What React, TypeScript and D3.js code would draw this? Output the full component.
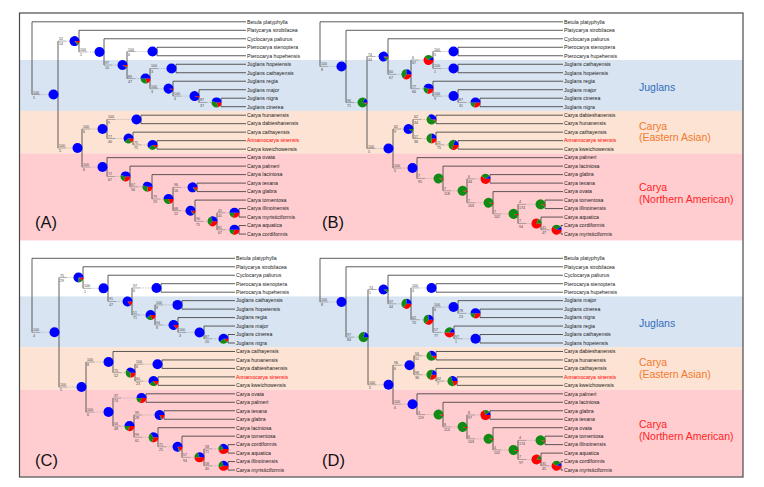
import React from 'react';
import * as d3 from 'd3';

// ---------- taxa (tip order, top to bottom) ----------
const taxaA = ["Betula platyphylla","Platycarya strobilacea","Cyclocarya paliurus","Pterocarya stenoptera","Pterocarya hupehensis","Juglans hopeiensis","Juglans cathayensis","Juglans regia","Juglans major","Juglans nigra","Juglans cinerea","Carya hunanensis","Carya dabieshanensis","Carya cathayensis","Annamocarya sinensis","Carya kweichowensis","Carya ovata","Carya palmeri","Carya laciniosa","Carya texana","Carya glabra","Carya tomentosa","Carya illinoinensis","Carya myristiciformis","Carya aquatica","Carya cordiformis"];
const taxaB = ["Betula platyphylla","Platycarya strobilacea","Cyclocarya paliurus","Pterocarya stenoptera","Pterocarya hupehensis","Juglans cathayensis","Juglans hopeiensis","Juglans regia","Juglans major","Juglans cinerea","Juglans nigra","Carya dabieshanensis","Carya hunanensis","Carya cathayensis","Annamocarya sinensis","Carya kweichowensis","Carya palmeri","Carya laciniosa","Carya glabra","Carya texana","Carya ovata","Carya tomentosa","Carya illinoinensis","Carya aquatica","Carya cordiformis","Carya myristiciformis"];
const taxaC = ["Betula platyphylla","Platycarya strobilacea","Cyclocarya paliurus","Pterocarya stenoptera","Pterocarya hupehensis","Juglans cathayensis","Juglans hopeiensis","Juglans regia","Juglans major","Juglans cinerea","Juglans nigra","Carya cathayensis","Carya hunanensis","Carya dabieshanensis","Annamocarya sinensis","Carya kweichowensis","Carya ovata","Carya palmeri","Carya texana","Carya glabra","Carya laciniosa","Carya tomentosa","Carya cordiformis","Carya aquatica","Carya illinoinensis","Carya myristiciformis"];
const taxaD = ["Betula platyphylla","Platycarya strobilacea","Cyclocarya paliurus","Pterocarya stenoptera","Pterocarya hupehensis","Juglans major","Juglans cinerea","Juglans nigra","Juglans regia","Juglans cathayensis","Juglans hopeiensis","Carya dabieshanensis","Carya hunanensis","Carya cathayensis","Annamocarya sinensis","Carya kweichowensis","Carya palmeri","Carya laciniosa","Carya glabra","Carya texana","Carya ovata","Carya tomentosa","Carya illinoinensis","Carya aquatica","Carya cordiformis","Carya myristiciformis"];

// ---------- internal nodes: [id, parent, depth, support top, support bottom, blue, red, green] ----------
const nodesA = [
  ["R","",0,"","",0,0,0],
  ["ING","R",26,"100","5",1,0,0],
  ["PR","ING",47,"52","14",.85,.08,.07],
  ["CR","PR",72,"100","1",1,0,0],
  ["PJ","CR",95,"97","10",.9,.07,.03],
  ["PT","PJ",125,"100","6",1,0,0],
  ["JU","PJ",118,"89","47",.5,.2,.3],
  ["JHC","JU",144,"100","3",1,0,0],
  ["JR","JU",141,"100","3",.95,.05,0],
  ["JM","JR",167,"100","4",.95,.05,0],
  ["JN","JM",189,"87","37",.45,.2,.35],
  ["CAR","ING",50,"100","5",1,0,0],
  ["EA","CAR",75,"100","6",1,0,0],
  ["HD","EA",109,"100","9",1,0,0],
  ["CAK","EA",101,"77","40",.6,.15,.25],
  ["AK","CAK",125,"75","75",.6,.1,.3],
  ["NA","CAR",75,"100","6",1,0,0],
  ["P1","NA",98,"72","67",.45,.3,.25],
  ["P2","P1",120,"67","56",.45,.25,.3],
  ["P3","P2",141,"79","19",.5,.2,.3],
  ["TG","P3",165,"96","16",.85,.1,.05],
  ["P4","P3",163,"68","12",.85,.1,.05],
  ["P5","P4",185,"90","75",.3,.35,.35],
  ["IM","P5",207,"41","41",.5,.3,.2],
  ["AC","P5",207,"81","67",.5,.3,.2],
];
const leafParentA = ["R","PR","CR","PT","PT","JHC","JHC","JR","JM","JN","JN","HD","HD","CAK","AK","AK","NA","P1","P2","TG","TG","P4","IM","IM","AC","AC"];

const nodesB = [
  ["R","",0,"","",0,0,0],
  ["ING","R",26,"100","8",1,0,0],
  ["JD","ING",47,"96","71",.15,.05,.8],
  ["CPJ","JD",68,"74","44",.85,.05,.1],
  ["PJ","CPJ",91,"60","67",.25,.35,.4],
  ["PJC","PJ",113,"6","67",.1,.6,.3],
  ["PT","PJC",138,"100","5",1,0,0],
  ["JCH","PJC",138,"100","1",1,0,0],
  ["JR","PJ",113,"77","66",.45,.3,.25],
  ["JM","JR",138,"100","9",1,0,0],
  ["JN","JM",160,"87","31",.5,.3,.2],
  ["CAR","JD",73,"100","5",1,0,0],
  ["EA","CAR",93,"62","9",.9,0,.1],
  ["DH","EA",116,"62","34",.35,.05,.6],
  ["CAK","EA",116,"57","36",.25,.25,.5],
  ["AK","CAK",138,"11","75",.2,.3,.5],
  ["NA","CAR",97,"100","5",1,0,0],
  ["Q1","NA",123,"7","95",0,.05,.95],
  ["Q2","Q1",147,"7","118",0,.05,.95],
  ["GT","Q2",170,"6","44",.1,.6,.3],
  ["Q3","Q2",173,"7","103",0,.05,.95],
  ["Q4","Q3",198,"7","102",0,.05,.95],
  ["TI","Q4",225,"4","174",0,.05,.95],
  ["ACM","Q4",221,"7","94",0,.8,.2],
  ["CM","ACM",241,"41","47",.1,.6,.3],
];
const leafParentB = ["R","ING","CPJ","PT","PT","JCH","JCH","JR","JM","JN","JN","DH","DH","CAK","AK","AK","NA","Q1","GT","GT","Q3","TI","TI","ACM","CM","CM"];

const nodesC = [
  ["R","",0,"","",0,0,0],
  ["ING","R",27,"100","4",1,0,0],
  ["PR","ING",51,"75","29",.75,.1,.15],
  ["CR","PR",76,"100","1",1,0,0],
  ["PJ","CR",100,"91","47",.85,.15,0],
  ["PT","PJ",129,"97","6",1,0,0],
  ["JU","PJ",123,"51","71",.6,.2,.2],
  ["JCH","JU",150,"100","8",1,0,0],
  ["JR","JU",146,"94","8",.85,.15,0],
  ["JM","JR",172,"100","3",1,0,0],
  ["JN","JM",196,"87","20",.6,.1,.3],
  ["CAR","ING",54,"100","5",1,0,0],
  ["EA","CAR",81,"100","8",1,0,0],
  ["X","EA",103,"75","52",.4,.25,.35],
  ["HD","X",130,"100","6",1,0,0],
  ["AK","X",126,"60","23",.6,.15,.25],
  ["NA","CAR",81,"100","6",1,0,0],
  ["OP","NA",114,"37","74",.5,.3,.2],
  ["R1","NA",102,"56","48",.5,.3,.2],
  ["TG","R1",132,"99","28",.8,.15,.05],
  ["R2","R1",126,"99","61",.35,.3,.35],
  ["R3","R2",150,"71","25",.8,.15,.05],
  ["R4","R3",172,"57","94",.3,.5,.2],
  ["CA","R4",196,"58","71",.35,.45,.2],
  ["IM","R4",196,"58","40",.3,.45,.25],
];
const leafParentC = ["R","PR","CR","PT","PT","JCH","JCH","JR","JM","JN","JN","EA","HD","HD","AK","AK","OP","OP","TG","TG","R2","R3","CA","CA","IM","IM"];

const nodesD = [
  ["R","",0,"","",0,0,0],
  ["ING","R",26,"100","8",1,0,0],
  ["JD","ING",48,"97","84",.2,0,.8],
  ["CPJ","JD",68,"74","1",.9,0,.1],
  ["PJ","CPJ",91,"97","44",.25,.35,.4],
  ["PT","PJ",116,"100","4",1,0,0],
  ["JU","PJ",113,"62","70",.25,.35,.4],
  ["JM","JU",138,"100","6",1,0,0],
  ["JN","JM",160,"78","23",.5,.3,.2],
  ["JRC","JU",134,"57","77",.15,.5,.35],
  ["JCH","JRC",160,"97","1",1,0,0],
  ["CAR","JD",73,"100","5",1,0,0],
  ["EA","CAR",94,"96","6",1,0,0],
  ["DH","EA",116,"56","51",.3,.1,.6],
  ["CAK","EA",116,"98","36",.2,.3,.5],
  ["AK","CAK",137,"62","7",.3,.2,.5],
  ["NA","CAR",97,"100","6",1,0,0],
  ["Q1","NA",123,"3","119",0,.05,.95],
  ["Q2","Q1",147,"8","114",0,.05,.95],
  ["GT","Q2",170,"8","97",.1,.7,.2],
  ["Q3","Q2",173,"6","103",0,.05,.95],
  ["Q4","Q3",198,"4","102",0,.05,.95],
  ["TI","Q4",225,"4","174",0,.05,.95],
  ["ACM","Q4",221,"7","97",0,.85,.15],
  ["CM","ACM",241,"35","45",.1,.6,.3],
];
const leafParentD = ["R","ING","CPJ","PT","PT","JM","JN","JN","JRC","JCH","JCH","DH","DH","CAK","AK","AK","NA","Q1","GT","GT","Q3","TI","TI","ACM","CM","CM"];

const panelLabels = ["(A)", "(B)", "(C)", "(D)"];
const groupBreaks = [5, 11, 16]; // first tip index of Juglans, E. Asian Carya, N. American Carya
const highlightTaxon = "Annamocarya sinensis";

const PIE_RED = "#ff0000";
const PIE_GREEN = "#138a13";
const PIE_BLUE = "#0000ff";
const BAND_JUG = "#d9e4f2";
const BAND_EA = "#fde3d3";
const BAND_NA = "#ffcdd0";
const FONT = "'Liberation Sans', Arial, sans-serif";

const arc = d3.arc();

function Tree({ nodes, leafParent, taxa, rootX, tipX, tipDepth, y0, step }) {
  const xs = d3.scaleLinear().domain([0, tipDepth]).range([rootX, tipX]);
  const ys = d3.scaleLinear().domain([0, taxa.length - 1]).range([y0, y0 + step * (taxa.length - 1)]);
  const table = [
    ...nodes.map((n) => ({ id: n[0], parent: n[1], depth: n[2], top: n[3], bot: n[4], pie: [n[6], n[7], n[5]], leaf: -1 })),
    ...leafParent.map((p, i) => ({ id: "L" + i, parent: p, depth: tipDepth, leaf: i })),
  ];
  const root = d3.stratify().id((d) => d.id).parentId((d) => d.parent || null)(table);
  root.eachAfter((n) => {
    n.px = xs(n.data.depth);
    if (n.data.leaf >= 0) n.py = ys(n.data.leaf);
    else {
      const cy = n.children.map((c) => c.py);
      n.ylo = Math.min(...cy);
      n.yhi = Math.max(...cy);
      n.py = (n.ylo + n.yhi) / 2;
    }
  });
  const all = root.descendants();
  const internals = all.filter((n) => n.children);
  const pieGen = d3.pie().sort(null).startAngle(Math.PI / 2).endAngle(Math.PI / 2 + 2 * Math.PI);
  const R = 5;
  const els = [];
  // verticals
  internals.forEach((n, i) => {
    els.push(<line key={"v" + i} x1={n.px} x2={n.px} y1={n.ylo} y2={n.yhi} stroke="#4d4d4d" strokeWidth={0.9} />);
  });
  // horizontals
  all.forEach((n, i) => {
    if (!n.parent) return;
    const x0 = n.parent.px;
    if (!n.children) {
      els.push(<line key={"h" + i} x1={x0} x2={tipX} y1={n.py} y2={n.py} stroke="#333" strokeWidth={0.8} />);
    } else {
      const pieLeft = n.px - 4.5 - R;
      const solidEnd = Math.min(x0 + 8, pieLeft);
      els.push(<line key={"hs" + i} x1={x0} x2={solidEnd} y1={n.py} y2={n.py} stroke="#777" strokeWidth={0.6} />);
      els.push(<line key={"hd" + i} x1={solidEnd} x2={n.px} y1={n.py} y2={n.py} stroke="#999" strokeWidth={0.6} strokeDasharray="0.8 0.8" />);
    }
  });
  // pies
  internals.forEach((n, i) => {
    if (!n.parent) return;
    const vals = n.data.pie;
    const cx = n.px - 4.5;
    const colors = [PIE_RED, PIE_GREEN, PIE_BLUE];
    const arcs = pieGen(vals);
    els.push(
      <g key={"p" + i} transform={`translate(${cx},${n.py})`}>
        {arcs.map((a, j) =>
          a.value > 0 ? (
            <path key={j} d={arc({ innerRadius: 0, outerRadius: R, startAngle: a.startAngle, endAngle: a.endAngle })} fill={colors[j]} />
          ) : null
        )}
      </g>
    );
    els.push(
      <text key={"st" + i} x={n.parent.px + 1} y={n.py - 1} fontSize={3.6} fill="#444" fontFamily={FONT}>{n.data.top}</text>
    );
    els.push(
      <text key={"sb" + i} x={n.parent.px + 1} y={n.py + 4.3} fontSize={3.6} fill="#444" fontFamily={FONT}>{n.data.bot}</text>
    );
  });
  // tip labels
  taxa.forEach((t, i) => {
    els.push(
      <text key={"t" + i} x={tipX + 1} y={ys(i) + 1.8} fontSize={5.2} fontFamily={FONT} fill={t === highlightTaxon ? "#ff0000" : "#1a1a1a"}>{t}</text>
    );
  });
  return <g>{els}</g>;
}

function Bands({ top, y0, step, n, left, right }) {
  const ys = d3.scaleLinear().domain([0, n - 1]).range([y0, y0 + step * (n - 1)]);
  const e1 = (ys(groupBreaks[0] - 1) + ys(groupBreaks[0])) / 2;
  const e2 = (ys(groupBreaks[1] - 1) + ys(groupBreaks[1])) / 2;
  const e3 = (ys(groupBreaks[2] - 1) + ys(groupBreaks[2])) / 2;
  const e4 = ys(n - 1) + 6.6;
  return (
    <g>
      <rect x={left} y={top} width={right - left} height={e1 - top} fill="#fff" />
      <rect x={left} y={e1} width={right - left} height={e2 - e1} fill={BAND_JUG} />
      <rect x={left} y={e2} width={right - left} height={e3 - e2} fill={BAND_EA} />
      <rect x={left} y={e3} width={right - left} height={e4 - e3} fill={BAND_NA} />
    </g>
  );
}

function GroupLabels({ y }) {
  const gx = 639;
  return (
    <g fontFamily={FONT} fontSize={10.5}>
      <text x={gx} y={y[0]} fill="#2f6eba">Juglans</text>
      <text x={gx} y={y[1]} fill="#f07a2e">Carya</text>
      <text x={gx} y={y[2]} fill="#f07a2e">(Eastern Asian)</text>
      <text x={gx} y={y[3]} fill="#ff2424">Carya</text>
      <text x={gx} y={y[4]} fill="#ff2424">(Northern American)</text>
    </g>
  );
}

export default function App() {
  const topY0 = 21.8, botY0 = 258.3, stepT = 8.49, stepB = 8.47;
  const n = taxaA.length;
  const midY = topY0 + stepT * (n - 1) + 6.6;
  return (
    <svg width={764} height={487} style={{ position: "absolute", left: 0, top: 0, background: "#fff" }}>
      <rect x={0} y={0} width={764} height={487} fill="#fff" />
      <Bands top={13} y0={topY0} step={stepT} n={n} left={20} right={743} />
      <Bands top={midY} y0={botY0} step={stepB} n={n} left={20} right={743} />
      <Tree nodes={nodesA} leafParent={leafParentA} taxa={taxaA} rootX={32} tipX={246} tipDepth={214} y0={topY0} step={stepT} />
      <Tree nodes={nodesB} leafParent={leafParentB} taxa={taxaB} rootX={320} tipX={563} tipDepth={243} y0={topY0} step={stepT} />
      <Tree nodes={nodesC} leafParent={leafParentC} taxa={taxaC} rootX={32} tipX={235} tipDepth={203} y0={botY0} step={stepB} />
      <Tree nodes={nodesD} leafParent={leafParentD} taxa={taxaD} rootX={320} tipX={563} tipDepth={243} y0={botY0} step={stepB} />
      <GroupLabels y={[91, 129.5, 141, 191, 203.3]} />
      <GroupLabels y={[327, 366, 378.3, 427.7, 440]} />
      <g fontFamily={FONT} fontSize={16.5} fill="#111">
        <text x={35} y={228}>{panelLabels[0]}</text>
        <text x={322} y={228}>{panelLabels[1]}</text>
        <text x={35} y={465.5}>{panelLabels[2]}</text>
        <text x={322} y={465.5}>{panelLabels[3]}</text>
      </g>
      <rect x={19.5} y={13} width={723.5} height={464} fill="none" stroke="#4a4a4a" strokeWidth={1.2} />
    </svg>
  );
}
